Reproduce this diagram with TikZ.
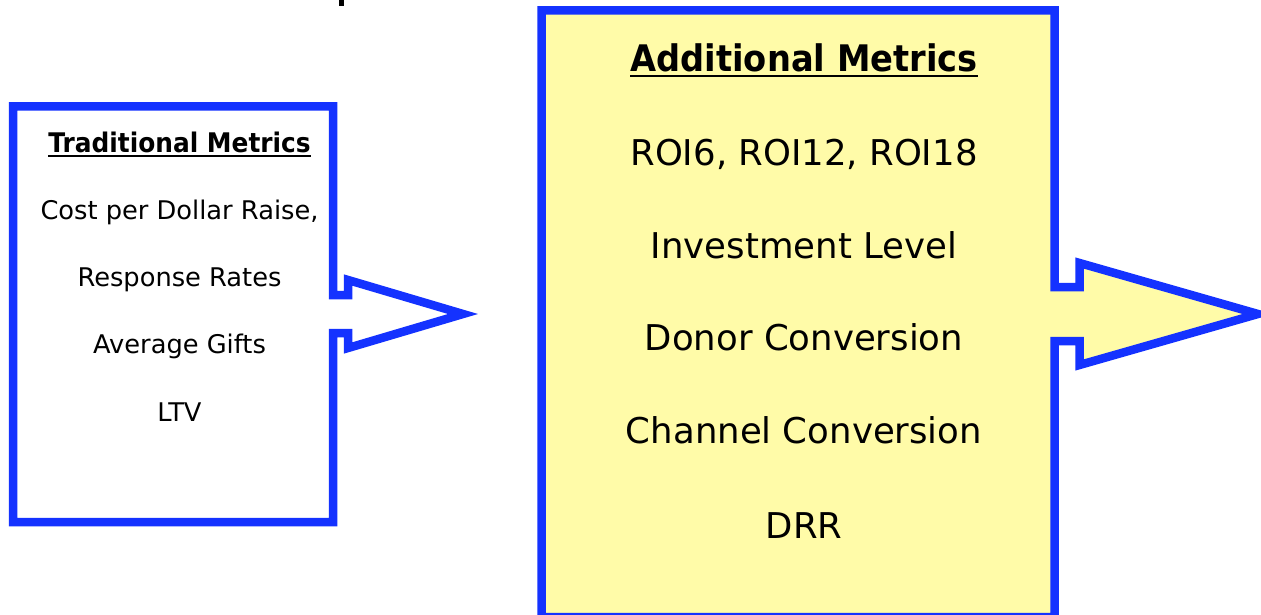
\documentclass[tikz,border=0pt]{standalone}
\usepackage{fontspec}
\setmainfont{DejaVu Sans}
\newfontfamily\headfont{DejaVu Sans}[FakeStretch=0.92]
\definecolor{frameblue}{RGB}{20,50,255}
\definecolor{padyellow}{RGB}{255,251,168}

\begin{document}
\begin{tikzpicture}[x=1pt,y=-1pt,
  frame/.style={draw=frameblue, line width=8.5pt, miter limit=20},
  smalltext/.style={anchor=base, inner sep=0pt, font=\fontsize{25.7}{30}\selectfont},
  smallhead/.style={anchor=base, inner sep=0pt, font=\headfont\bfseries\fontsize{27}{30}\selectfont},
  bigtext/.style={anchor=base, inner sep=0pt, font=\fontsize{35.5}{40}\selectfont},
  bighead/.style={anchor=base, inner sep=0pt, font=\headfont\bfseries\fontsize{36.6}{40}\selectfont},
  headrule/.style={line width=#1},
]
\useasboundingbox (0,0) rectangle (1261,615);
\clip (0,0) rectangle (1261,615);
\fill[white] (0,0) rectangle (1261,615);

% piece of a title running off the top edge
\fill[black] (339,0) rectangle (344,6);

% left panel with its pointer
\path[frame, fill=white]
  (13,106.5) -- (333,106.5) -- (333,295) -- (348,295) -- (348,280)
  -- (463,314) -- (348,348) -- (348,333) -- (333,333) -- (333,522)
  -- (13,522) -- cycle;

% right panel with its pointer
\path[frame, fill=padyellow]
  (541.5,617) -- (541.5,10.5) -- (1054.5,10.5) -- (1054.5,287) -- (1079.5,287)
  -- (1079.5,263) -- (1258,314) -- (1079.5,365) -- (1079.5,341) -- (1054.5,341)
  -- (1054.5,617) -- cycle;

% left panel text
\node[smallhead] (th) at (179.5,152.3) {Traditional Metrics};
\draw[headrule=1.5pt] ([yshift=-3.8pt]th.base west) -- ([yshift=-3.8pt]th.base east);
\node[smalltext] (t1) at (179.5,219.3) {Cost per Dollar Raise,};
\node[smalltext] (t2) at (179.5,286) {Response Rates};
\node[smalltext] (t3) at (179.5,353.3) {Average Gifts};
\node[smalltext] (t4) at (179.5,421) {LTV};

% right panel text
\node[bighead] (ah) at (804,71.7) {Additional Metrics};
\draw[headrule=2pt] ([yshift=-4.5pt]ah.base west) -- ([yshift=-4.5pt]ah.base east);
\node[bigtext] (a1) at (804,165) {ROI6, ROI12, ROI18};
\node[bigtext] (a2) at (804,258.3) {Investment Level};
\node[bigtext] (a3) at (804,350) {Donor Conversion};
\node[bigtext] (a4) at (804,443.3) {Channel Conversion};
\node[bigtext] (a5) at (804,538.3) {DRR};
\end{tikzpicture}
\end{document}
